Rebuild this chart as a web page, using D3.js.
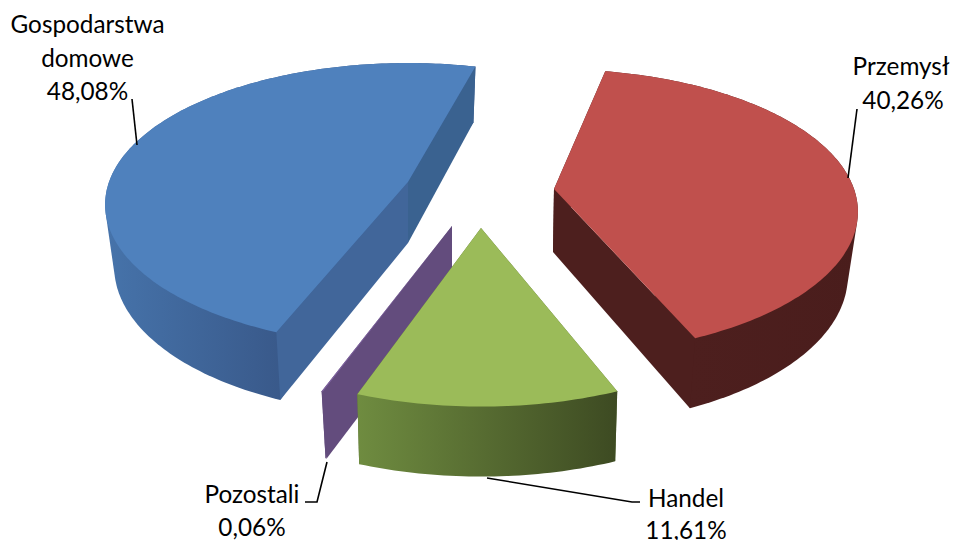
<!DOCTYPE html>
<html>
<head>
<meta charset="utf-8">
<script src="https://cdn.jsdelivr.net/npm/d3@7/dist/d3.min.js"></script>
<style>
html,body{margin:0;padding:0;background:#fff;overflow:hidden}
text{font-family:Lato,"Open Sans",sans-serif;font-size:24.3px;fill:#000;text-anchor:middle}
</style>
</head>
<body>
<svg id="c" width="953" height="540"></svg>
<script>
// Data, in drawing-angle order (clockwise from the start angle)
const categories = ["Przemysł", "Handel", "Pozostali", "Gospodarstwa domowe"];
const values = [40.26, 11.61, 0.06, 48.08];
const valueLabels = ["40,26%", "11,61%", "0,06%", "48,08%"];

// Layout of each exploded slice
const rad = Math.PI / 180;
const K = 0.16; // perspective strength
const layout = [
  {cx:554,cy:189,bx:553,by:252,A:300,B:139,sx:0.97,sy:1.047,nudge:0,  top:"#c0504d",w1:"#4d1f1e",w2:"#4d1f1e",g:["#4d1f1e","#4a1d1c"],gx:[690,860],rimOver:false,
   lines:["Przemysł"],ly:[75],lx:901,pct:[903,109],leader:[[848,178],[857,109]]},
  {cx:481,cy:228,bx:481,by:298,A:310,B:150,sx:0.985,sy:1.0,nudge:1.7,top:"#9bbb59",w1:"#5a6f36",w2:"#5a6f36",g:["#6f8c40","#3d4a22"],gx:[357,618],rimOver:true,
   lines:["Handel"],ly:[507],lx:686,pct:[686,539],leader:[[487,478],[632,502],[640,502]]},
  {cx:452,cy:226,bx:452,by:293,A:305,B:151,sx:0.97,sy:1.0,nudge:3,  top:"#8064a2",w1:"#634c7d",w2:"#634c7d",g:["#634c7d","#634c7d"],gx:[322,360],rimOver:false,
   lines:["Pozostali"],ly:[503],lx:252,pct:[252,536],leader:[[327,462],[317,502],[305,502]]},
  {cx:408,cy:182,bx:408,by:243,A:299,B:138,sx:0.97,sy:1.045,nudge:3.7,top:"#4f81bd",w1:"#3a6290",w2:"#41669a",g:["#4673aa","#39598a"],gx:[107,282],rimOver:false,
   lines:["Gospodarstwa","domowe"],ly:[33,67],lx:87.5,pct:[87.5,100],leader:[[137,145],[132,99]]}
];

const pie = d3.pie().sort(null)
  .startAngle(11.4 * rad).endAngle((360 + 11.4) * rad);
const arcs = pie(values);

// Project a rim angle (clockwise from the back) onto the tilted plane
function topPt(l, t) {
  const w = 1 + K * Math.cos(t);
  return [l.cx + l.A * Math.sin(t) / w, l.cy - l.B * Math.cos(t) / w];
}
function botPt(l, t) {
  const w = 1 + K * Math.cos(t);
  return [l.bx + l.A * l.sx * Math.sin(t) / w, l.by - l.B * l.sy * Math.cos(t) / w];
}
const line = d3.line();
const svg = d3.select("#c");
const defs = svg.append("defs");

const slices = arcs.map((a, i) => {
  const l = layout[i], n = l.nudge * rad;
  const t0 = a.startAngle + n, t1 = a.endAngle + n;
  const steps = Math.max(2, Math.ceil((t1 - t0) / (1 * rad)));
  const ts = d3.range(steps + 1).map(k => t0 + (t1 - t0) * k / steps);
  return {i, l, t0, t1, ts};
});

slices.forEach(s => {
  const g = defs.append("linearGradient").attr("id", "g" + s.i)
    .attr("gradientUnits", "userSpaceOnUse")
    .attr("x1", s.l.gx[0]).attr("x2", s.l.gx[1]).attr("y1", 0).attr("y2", 0);
  g.append("stop").attr("offset", 0).attr("stop-color", s.l.g[0]);
  g.append("stop").attr("offset", 1).attr("stop-color", s.l.g[1]);
});

// Paint order: back to front
[0, 3, 2, 1].forEach(idx => {
  const s = slices[idx], l = s.l;
  const grp = svg.append("g");
  const apexT = [l.cx, l.cy], apexB = [l.bx, l.by];
  const drawRim = () => {
    const rim = s.ts.map(t => topPt(l, t)).concat(s.ts.map(t => botPt(l, t)));
    grp.append("path").attr("fill", `url(#g${s.i})`)
      .attr("d", line(d3.polygonHull(rim)) + "Z");
  };
  const drawRadial = () => {
    grp.append("path").attr("fill", l.w2)
      .attr("d", line([apexT, topPt(l, s.t0), botPt(l, s.t0), apexB]) + "Z");
    grp.append("path").attr("fill", l.w1)
      .attr("d", line([apexT, topPt(l, s.t1), botPt(l, s.t1), apexB]) + "Z");
  };
  // the rim hides the radial walls on a front-facing slice, and the reverse on the others
  if (l.rimOver) { drawRadial(); drawRim(); } else { drawRim(); drawRadial(); }
  // top face
  const top = [apexT].concat(s.ts.map(t => topPt(l, t)));
  grp.append("path").attr("fill", l.top).attr("d", line(top) + "Z");
});

// Leader lines and labels
slices.forEach((s, i) => {
  const l = s.l;
  svg.append("path").attr("fill", "none").attr("stroke", "#000").attr("stroke-width", 1.6)
    .attr("d", line(l.leader));
  l.lines.forEach((t, j) => {
    svg.append("text").attr("x", l.lx).attr("y", l.ly[j]).text(t);
  });
  svg.append("text").attr("x", l.pct[0]).attr("y", l.pct[1]).text(valueLabels[i]);
});
</script>
</body>
</html>
